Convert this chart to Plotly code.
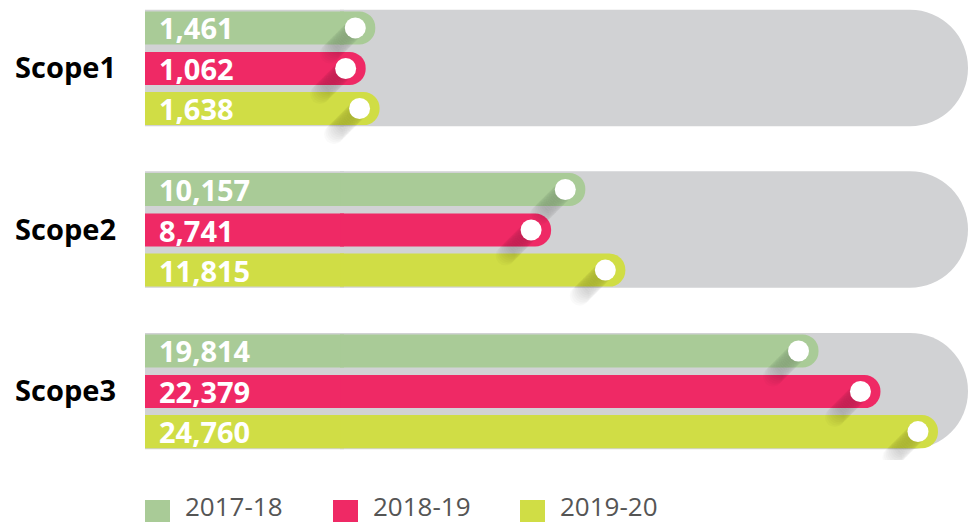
import plotly.graph_objects as go

# ---------------- data ----------------
scopes = ["Scope1", "Scope2", "Scope3"]
years = ["2017-18", "2018-19", "2019-20"]
v2017_18 = [1461, 10157, 19814]
v2018_19 = [1062, 8741, 22379]
v2019_20 = [1638, 11815, 24760]
series = [v2017_18, v2018_19, v2019_20]

# ---------------- style ----------------
colors = ["#a9cb97", "#ef2965", "#d0dd45"]
track_color = "#d1d2d4"
label_font = "Open Sans"

W, H = 968, 524
ML, MR, MT, MB = 145, 0, 0, 64
PW, PH = W - ML - MR, H - MT - MB
X0, X1 = -8075, 26004          # axis range (left part reserved for labels)
Y_TOP, Y_BOT = -0.421, 2.427   # reversed y axis
ux = (X1 - X0) / PW            # data units per pixel (x)
uy = (Y_BOT - Y_TOP) / PH      # data units per pixel (y)

ypos = list(range(len(scopes)))
centers = [-0.248, 0.003, 0.251]
bw = 0.205
track_w = 0.72
stub_len = -X0 + 4 * ux        # square-ended lead-in under each bar

fig = go.Figure()

# background tracks: square lead-in + rounded body
fig.add_bar(
    y=ypos, x=[stub_len] * len(scopes), base=X0, orientation="h",
    width=track_w, offset=-track_w / 2,
    marker=dict(color=track_color, cornerradius=0, line=dict(width=0)),
    hoverinfo="skip", showlegend=False,
)
fig.add_bar(
    y=ypos, x=[X1] * len(scopes), orientation="h",
    width=track_w, offset=-track_w / 2,
    marker=dict(color=track_color, cornerradius="50%", line=dict(width=0)),
    hoverinfo="skip", showlegend=False,
)

# series bars
for vals, col, yr, c in zip(series, colors, years, centers):
    fig.add_bar(
        y=ypos, x=[stub_len] * len(vals), base=X0, orientation="h",
        width=bw, offset=c - bw / 2,
        marker=dict(color=col, cornerradius=0, line=dict(width=0)),
        hoverinfo="skip", showlegend=False,
    )
    fig.add_bar(
        y=ypos, x=vals, orientation="h",
        width=bw, offset=c - bw / 2, name=yr,
        marker=dict(color=col, cornerradius="50%", line=dict(width=0)),
        hovertemplate="%{x:,}<extra>" + yr + "</extra>",
        showlegend=False,
    )

# shadows (long diagonal shadow from dots)
dot_in = 20  # px inside the bar end
for vals, c in zip(series, centers):
    sx, sy = [], []
    for v, y in zip(vals, ypos):
        for k in range(1, 17):
            sx.append(v - dot_in * ux - k * 1.6 * ux)
            sy.append(y + c + k * 1.6 * uy)
    fig.add_scatter(
        x=sx, y=sy, mode="markers",
        marker=dict(size=20, color="rgba(0,0,0,0.02)", line=dict(width=0)),
        hoverinfo="skip", showlegend=False,
    )

# white dots
for vals, c in zip(series, centers):
    fig.add_scatter(
        x=[v - dot_in * ux for v in vals], y=[y + c for y in ypos],
        mode="markers",
        marker=dict(size=21, color="white", line=dict(width=0)),
        hoverinfo="skip", showlegend=False,
    )

# value labels inside bars
annotations = []
for vals, c in zip(series, centers):
    for v, y in zip(vals, ypos):
        annotations.append(dict(
            x=X0, y=y + c, xref="x", yref="y", xanchor="left", yanchor="middle",
            xshift=12, yshift=0, showarrow=False, text=f"<b>{v:,}</b>",
            font=dict(family=label_font, size=29, color="white"),
        ))

# manual legend (below plot)
shapes = []
leg_x = [145, 333, 520]
sq_w, sq_h = 25, 22
sq_top = 500
for lx, col, yr in zip(leg_x, colors, years):
    x0p = (lx - ML) / PW
    x1p = (lx + sq_w - ML) / PW
    y0p = (PH - (sq_top + sq_h - MT)) / PH
    y1p = (PH - (sq_top - MT)) / PH
    shapes.append(dict(type="rect", xref="paper", yref="paper",
                       x0=x0p, x1=x1p, y0=y0p, y1=y1p,
                       fillcolor=col, line=dict(width=0)))
    annotations.append(dict(
        x=(lx + sq_w + 14 - ML) / PW, y=(PH - (506 - MT)) / PH,
        xref="paper", yref="paper", xanchor="left", yanchor="middle",
        showarrow=False, text=yr, borderpad=0,
        font=dict(family=label_font, size=26, color="#555555"),
    ))

fig.update_layout(
    width=W, height=H,
    margin=dict(l=ML, r=MR, t=MT, b=MB),
    paper_bgcolor="white", plot_bgcolor="white",
    barmode="overlay",
    showlegend=False,
    xaxis=dict(range=[X0, X1], visible=False, fixedrange=True),
    yaxis=dict(
        range=[Y_BOT, Y_TOP], tickvals=ypos,
        ticktext=[f"<b>{s}</b>" for s in scopes],
        tickfont=dict(family=label_font, size=29, color="black"),
        showgrid=False, zeroline=False, showline=False,
        ticks="", ticklabelstandoff=28, fixedrange=True,
    ),
    annotations=annotations,
    shapes=shapes,
)

fig.write_html(
    "out.html",
    config={"displayModeBar": False},
    post_script="document.body.style.margin='0';document.body.style.overflow='hidden';",
)
